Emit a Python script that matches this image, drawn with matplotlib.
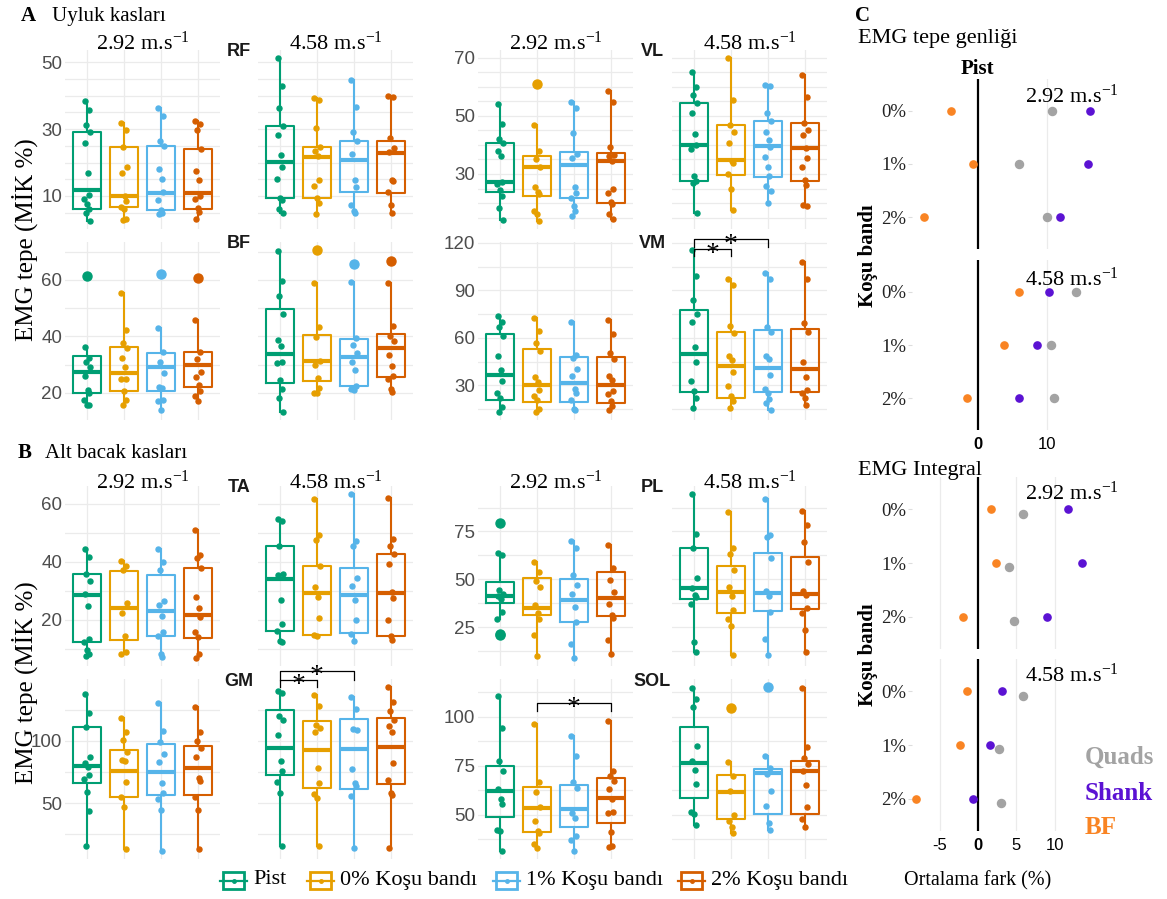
import matplotlib
matplotlib.use("Agg")
import matplotlib.pyplot as plt
from matplotlib.patches import Rectangle
import numpy as np

W, H = 1167, 899

plt.rcParams["font.family"] = ["Liberation Serif", "DejaVu Serif"]
plt.rcParams["mathtext.fontset"] = "custom"
plt.rcParams["mathtext.rm"] = "Liberation Serif"
plt.rcParams["mathtext.it"] = "Liberation Serif:italic"
plt.rcParams["mathtext.bf"] = "Liberation Serif:bold"

GROUPS = ["Pist", "0% Koşu bandı", "1% Koşu bandı", "2% Koşu bandı"]
COLORS = ["#009E73", "#E69F00", "#56B4E9", "#D55E00"]
SPEEDS = ["2.92", "4.58"]
GRID = "#EBEBEB"

# box stats per group: (q1, median, q3, whisker low, whisker high)
RF_292_BOX = [(6.2, 11.7, 29.2, 2.5, 38.5), (6.8, 10.0, 24.7, 2.8, 31.7),
              (5.8, 11.0, 24.9, 4.5, 36.4), (6.0, 10.8, 24.1, 3.0, 32.3)]
RF_292_OUT = [[], [], [], []]
RF_292_PTS = [[38.5, 35.7, 31.2, 29.2, 26.0, 16.9, 10.3, 9.0, 7.5, 6.2, 5.0, 2.5],
              [31.7, 29.7, 24.7, 18.7, 17.0, 10.0, 8.5, 6.8, 6.2, 3.0, 2.8],
              [36.4, 34.0, 26.5, 24.9, 18.2, 15.0, 11.2, 8.7, 5.8, 5.0, 4.5],
              [32.3, 31.5, 29.6, 24.1, 17.4, 14.7, 10.0, 9.0, 6.4, 5.3, 3.0]]
RF_458_BOX = [(9.3, 20.3, 30.9, 4.9, 51.3), (9.3, 21.8, 24.7, 4.7, 39.3),
              (11.2, 20.7, 26.4, 5.0, 44.6), (11.0, 23.0, 26.5, 4.8, 39.9)]
RF_458_OUT = [[], [], [], []]
RF_458_PTS = [[51.3, 43.0, 36.2, 30.9, 28.2, 22.4, 18.7, 15.2, 9.3, 8.7, 6.2, 4.9],
              [39.3, 38.8, 30.2, 24.7, 23.5, 22.0, 14.7, 13.0, 9.3, 7.8, 4.7],
              [44.6, 36.6, 29.0, 26.4, 22.7, 14.7, 12.8, 7.3, 5.5, 5.0],
              [39.9, 39.5, 27.2, 24.3, 23.3, 14.7, 14.5, 11.2, 7.4, 4.8]]

VL_292_BOX = [(23.9, 27.1, 40.6, 14.2, 53.9), (22.6, 32.3, 36.3, 13.9, 46.7),
              (21.7, 33.1, 37.7, 15.7, 54.6), (20.2, 34.3, 37.1, 14.7, 58.6)]
VL_292_OUT = [[], [60.9], [], []]
VL_292_PTS = [[53.9, 47.1, 42.0, 40.6, 38.0, 36.2, 27.1, 26.6, 24.6, 22.6, 18.3, 14.2],
              [46.7, 37.9, 35.1, 32.3, 25.4, 23.7, 23.1, 17.2, 16.3, 13.9],
              [54.6, 52.6, 44.2, 36.7, 35.5, 25.4, 23.4, 21.8, 18.9, 17.4, 15.7],
              [58.6, 54.6, 39.4, 36.6, 36.2, 34.3, 25.0, 23.4, 20.3, 19.6, 16.3, 14.7]]
VL_458_BOX = [(27.7, 39.9, 54.3, 16.6, 64.9), (29.7, 34.9, 46.9, 17.8, 69.8),
              (29.0, 39.6, 48.3, 20.2, 60.6), (27.7, 39.0, 47.6, 18.9, 63.9)]
VL_458_OUT = [[], [], [], []]
VL_458_PTS = [[64.9, 59.9, 57.2, 54.3, 51.0, 43.9, 40.1, 38.5, 29.2, 27.6, 26.9, 16.6],
              [69.8, 55.4, 46.9, 44.5, 40.6, 34.6, 33.9, 29.9, 24.9, 17.8],
              [60.6, 60.2, 50.8, 48.1, 44.5, 41.7, 39.4, 36.0, 32.5, 29.2, 26.0, 24.3, 20.2],
              [63.9, 56.6, 47.5, 45.2, 43.3, 39.1, 35.5, 32.5, 27.9, 26.2, 19.5, 18.9]]

BF_292_BOX = [(19.8, 27.4, 33.2, 15.6, 36.4), (20.6, 27.1, 36.4, 15.5, 55.5),
              (20.5, 29.1, 34.0, 14.0, 42.9), (21.9, 29.8, 34.4, 17.1, 45.8)]
BF_292_OUT = [[61.5], [], [62.1], [60.8]]
BF_292_PTS = [[36.4, 32.2, 30.8, 29.1, 25.9, 20.8, 20.0, 17.6, 15.8, 15.6],
              [55.5, 42.4, 37.6, 35.9, 32.2, 29.1, 24.8, 24.8, 20.6, 17.6, 15.5],
              [42.9, 34.4, 30.8, 26.9, 22.0, 21.8, 17.3, 17.0, 14.0],
              [45.8, 34.4, 31.8, 27.3, 25.5, 22.7, 20.6, 18.8, 17.1]]
BF_458_BOX = [(23.5, 33.8, 49.6, 13.2, 70.2), (24.1, 31.1, 40.6, 19.8, 58.8),
              (22.4, 32.8, 39.1, 20.8, 59.4), (25.6, 36.0, 40.9, 20.2, 58.8)]
BF_458_OUT = [[], [70.6], [65.5], [66.8]]
BF_458_PTS = [[70.2, 59.8, 54.4, 48.0, 38.8, 36.5, 30.9, 30.5, 24.4, 21.2, 18.1, 13.2],
              [58.8, 43.3, 39.8, 31.4, 29.9, 25.1, 21.8, 20.0, 19.8],
              [59.4, 39.3, 37.1, 34.1, 30.8, 28.0, 22.4, 21.5, 20.8],
              [58.8, 43.5, 40.0, 38.5, 33.4, 29.4, 26.1, 24.7, 21.5, 20.2]]

VM_292_BOX = [(20.6, 36.4, 62.6, 13.3, 73.7), (19.8, 30.1, 52.9, 13.5, 72.4),
              (19.4, 31.5, 47.7, 14.8, 70.1), (19.0, 30.3, 47.7, 14.3, 71.4)]
VM_292_OUT = [[], [], [], []]
VM_292_PTS = [[73.7, 70.3, 67.0, 61.3, 48.3, 39.5, 32.8, 25.0, 22.1, 16.6, 13.3],
              [72.4, 64.2, 56.7, 51.9, 35.1, 32.0, 26.9, 23.1, 20.8, 15.4, 13.5],
              [70.1, 49.3, 47.3, 40.3, 35.7, 28.0, 25.2, 20.6, 15.4, 14.8],
              [71.4, 62.6, 50.4, 46.6, 36.1, 33.6, 26.7, 24.8, 20.0, 16.9, 14.3]]
VM_458_BOX = [(26.1, 49.8, 77.7, 15.6, 115.4), (22.3, 42.0, 64.0, 15.6, 97.1),
              (26.1, 41.0, 64.7, 14.8, 101.1), (26.1, 40.1, 65.7, 17.5, 107.6)]
VM_458_OUT = [[], [], [], []]
VM_458_PTS = [[115.4, 99.2, 83.9, 75.1, 70.1, 54.4, 44.5, 32.8, 26.3, 22.1, 15.6],
              [97.1, 93.2, 67.2, 63.0, 48.3, 45.8, 38.2, 29.4, 23.1, 20.0, 15.6],
              [101.1, 97.1, 66.8, 64.0, 48.3, 46.6, 36.6, 28.0, 25.2, 21.7, 19.0, 14.8],
              [107.6, 96.9, 69.1, 64.0, 44.7, 35.3, 27.3, 25.2, 21.9, 17.5]]

TA_292_BOX = [(12.5, 28.4, 35.9, 7.5, 44.5), (13.1, 24.0, 36.8, 8.3, 40.1),
              (14.5, 22.9, 35.6, 7.1, 44.5), (13.9, 21.6, 37.8, 6.9, 50.8)]
TA_292_OUT = [[], [], [], []]
TA_292_PTS = [[44.5, 41.8, 35.9, 33.3, 29.0, 24.8, 13.4, 12.5, 9.7, 8.3, 7.5],
              [40.1, 38.7, 37.0, 25.7, 22.4, 14.3, 8.9, 8.3],
              [44.5, 39.8, 37.2, 26.4, 25.2, 21.3, 15.7, 14.4, 8.3, 7.1],
              [50.8, 42.2, 41.4, 37.8, 28.0, 24.1, 20.9, 15.7, 14.0, 8.3, 6.9]]
TA_458_BOX = [(16.2, 34.1, 45.4, 12.3, 54.6), (14.6, 29.2, 38.4, 14.4, 61.6),
              (15.6, 28.6, 37.8, 12.6, 63.3), (14.4, 29.3, 42.6, 13.1, 62.1)]
TA_458_OUT = [[], [], [], []]
TA_458_PTS = [[54.6, 54.0, 45.4, 35.9, 35.3, 26.7, 18.4, 16.3, 12.6, 12.3],
              [61.6, 49.4, 47.4, 38.4, 31.3, 27.8, 20.7, 14.6, 14.4],
              [63.3, 47.0, 45.3, 34.3, 31.6, 27.0, 20.0, 15.2, 12.6],
              [62.1, 47.7, 45.4, 42.8, 39.1, 29.5, 27.5, 20.0, 14.4, 13.1]]

PL_292_BOX = [(37.6, 41.0, 48.7, 29.4, 63.8), (31.1, 35.2, 50.4, 9.6, 59.2),
              (27.5, 39.2, 50.1, 8.9, 69.9), (30.8, 40.1, 53.6, 10.8, 67.8)]
PL_292_OUT = [[79.6, 21.3, 20.6], [], [], []]
PL_292_PTS = [[63.8, 62.7, 44.3, 42.2, 41.0, 39.6, 32.9, 29.4],
              [59.2, 53.6, 49.2, 45.9, 36.4, 32.2, 29.0, 20.8, 9.6],
              [69.9, 66.2, 52.2, 46.9, 42.4, 35.7, 27.6, 15.9, 8.9],
              [67.8, 56.1, 49.7, 43.1, 36.8, 31.1, 29.9, 18.0, 10.8]]
PL_458_BOX = [(39.6, 45.2, 66.2, 11.8, 94.5), (32.2, 43.1, 56.8, 10.6, 85.4),
              (33.4, 42.7, 63.9, 10.3, 91.8), (34.3, 42.5, 61.8, 11.8, 85.9)]
PL_458_OUT = [[], [], [], []]
PL_458_PTS = [[94.5, 73.9, 66.4, 50.6, 45.5, 41.7, 40.8, 37.3, 17.3, 11.8],
              [85.4, 66.2, 63.1, 54.8, 46.1, 41.0, 34.0, 29.0, 25.5, 10.6],
              [91.8, 73.2, 72.0, 61.0, 43.8, 41.0, 33.1, 18.5, 10.3],
              [85.9, 78.5, 69.7, 59.2, 43.6, 42.0, 35.2, 32.5, 23.4, 11.8]]

GM_292_BOX = [(66.5, 79.8, 110.9, 15.4, 137.5), (55.1, 75.8, 92.8, 12.8, 118.6),
              (56.6, 74.7, 97.6, 11.7, 130.3), (56.6, 78.5, 95.5, 12.8, 127.1)]
GM_292_OUT = [[], [], [], []]
GM_292_PTS = [[137.5, 122.6, 110.9, 87.2, 81.9, 78.7, 72.6, 69.4, 58.8, 43.4, 15.4],
              [118.6, 107.2, 100.5, 90.7, 84.6, 83.8, 67.3, 55.3, 46.8, 12.8],
              [130.3, 107.7, 99.2, 89.4, 83.2, 66.0, 58.0, 53.2, 44.1, 11.7],
              [127.1, 106.9, 100.0, 94.4, 86.7, 69.9, 68.1, 55.3, 44.7, 12.8]]
GM_458_BOX = [(72.6, 94.4, 124.5, 15.4, 140.4), (62.5, 92.6, 115.7, 15.4, 137.0),
              (61.7, 93.1, 117.6, 13.6, 135.1), (65.4, 94.7, 118.6, 14.1, 143.1)]
GM_458_OUT = [[], [], [], []]
GM_458_PTS = [[140.4, 138.3, 120.2, 117.0, 104.5, 84.0, 76.1, 67.3, 58.5, 15.4],
              [137.0, 127.7, 113.0, 110.6, 107.2, 77.9, 66.0, 57.4, 54.0, 15.4],
              [135.1, 125.3, 109.6, 109.0, 77.1, 66.0, 63.8, 55.9, 13.6],
              [143.1, 131.1, 123.9, 117.0, 111.7, 107.2, 81.9, 68.6, 58.5, 56.6, 14.1]]

SOL_292_BOX = [(49.0, 62.0, 75.0, 31.5, 110.8), (40.9, 53.4, 64.0, 32.7, 96.2),
               (43.5, 52.9, 65.2, 31.5, 90.1), (45.5, 58.7, 68.7, 33.2, 97.8)]
SOL_292_OUT = [[], [], [], []]
SOL_292_PTS = [[110.8, 94.3, 77.4, 72.4, 63.2, 57.9, 55.5, 42.1, 41.8, 31.5],
               [96.2, 66.6, 61.8, 53.8, 46.9, 41.8, 40.4, 35.0, 32.7],
               [90.1, 80.1, 66.6, 63.5, 50.9, 48.1, 39.2, 37.0, 31.5],
               [97.8, 72.1, 69.7, 67.1, 63.2, 58.0, 51.2, 50.7, 40.9, 34.1, 33.2]]
SOL_458_BOX = [(58.7, 76.5, 94.9, 44.9, 114.6), (47.8, 61.5, 70.0, 40.4, 76.9),
               (50.3, 71.2, 73.5, 42.1, 80.1), (50.3, 72.1, 77.4, 43.5, 114.9)]
SOL_458_OUT = [[], [104.3], [115.1], []]
SOL_458_PTS = [[114.6, 108.9, 104.8, 85.1, 77.4, 72.6, 65.8, 51.2, 50.3, 44.9],
               [76.9, 69.9, 62.3, 50.0, 46.6, 43.5, 40.4],
               [80.1, 74.0, 70.9, 62.3, 54.6, 45.9, 42.1],
               [114.9, 84.6, 79.1, 75.7, 72.3, 64.9, 53.8, 47.6, 43.5]]

# y ticks and grid step per muscle
TICKS = {"RF": [10, 30, 50], "VL": [30, 50, 70], "BF": [20, 40, 60],
         "VM": [30, 60, 90, 120], "TA": [20, 40, 60], "PL": [25, 50, 75],
         "GM": [50, 100], "SOL": [50, 75, 100]}
GRID_STEP = {"RF": 5, "VL": 5, "BF": 10, "VM": 15, "TA": 10, "PL": 12.5,
             "GM": 25, "SOL": 12.5}

# significance brackets: (muscle, speed index, group a, group b, bar y, leg end y)
SIG = [("VM", 1, 0, 1, 116.4, 111.6), ("VM", 1, 0, 2, 122.1, 117.5),
       ("GM", 1, 0, 1, 148.9, 143.1), ("GM", 1, 0, 2, 155.9, 148.9),
       ("SOL", 0, 1, 3, 106.8, 102.9)]

# panel C: mean difference (%) vs Pist for 0%, 1%, 2% treadmill
LEVELS = ["0%", "1%", "2%"]
PEAK_292_QUADS = [10.7, 6.0, 10.0]
PEAK_292_SHANK = [16.2, 15.9, 11.9]
PEAK_292_BF = [-3.9, -0.7, -7.8]
PEAK_458_QUADS = [14.2, 10.5, 11.0]
PEAK_458_SHANK = [10.3, 8.6, 5.9]
PEAK_458_BF = [5.9, 3.8, -1.6]
INT_292_QUADS = [5.9, 4.0, 4.7]
INT_292_SHANK = [11.7, 13.6, 9.0]
INT_292_BF = [1.7, 2.3, -2.0]
INT_458_QUADS = [5.8, 2.8, 3.0]
INT_458_SHANK = [3.1, 1.6, -0.7]
INT_458_BF = [-1.4, -2.4, -8.1]
QUADS_C, SHANK_C, BF_C = "#A3A3A3", "#5B12D3", "#F98423"

JIT = [-0.07, 0.05, -0.02, 0.08, -0.05, 0.02, 0.06, -0.08, 0.0, 0.04, -0.04, 0.07, -0.01]

MUSCLES = {
    "RF": ((RF_292_BOX, RF_292_PTS, RF_292_OUT), (RF_458_BOX, RF_458_PTS, RF_458_OUT)),
    "VL": ((VL_292_BOX, VL_292_PTS, VL_292_OUT), (VL_458_BOX, VL_458_PTS, VL_458_OUT)),
    "BF": ((BF_292_BOX, BF_292_PTS, BF_292_OUT), (BF_458_BOX, BF_458_PTS, BF_458_OUT)),
    "VM": ((VM_292_BOX, VM_292_PTS, VM_292_OUT), (VM_458_BOX, VM_458_PTS, VM_458_OUT)),
    "TA": ((TA_292_BOX, TA_292_PTS, TA_292_OUT), (TA_458_BOX, TA_458_PTS, TA_458_OUT)),
    "PL": ((PL_292_BOX, PL_292_PTS, PL_292_OUT), (PL_458_BOX, PL_458_PTS, PL_458_OUT)),
    "GM": ((GM_292_BOX, GM_292_PTS, GM_292_OUT), (GM_458_BOX, GM_458_PTS, GM_458_OUT)),
    "SOL": ((SOL_292_BOX, SOL_292_PTS, SOL_292_OUT), (SOL_458_BOX, SOL_458_PTS, SOL_458_OUT)),
}

# layout in pixels
COLS = [[(65, 220), (258, 413)], [(478, 633), (672, 827)]]
ROWS = [(50, 229), (242, 420), (486, 666), (679, 859)]
PLACE = {"RF": (0, 0), "VL": (0, 1), "BF": (1, 0), "VM": (1, 1),
         "TA": (2, 0), "PL": (2, 1), "GM": (3, 0), "SOL": (3, 1)}

fig = plt.figure(figsize=(W / 100, H / 100), dpi=100)


def px_axes(x0, y0, x1, y1):
    return fig.add_axes([x0 / W, 1 - y1 / H, (x1 - x0) / W, (y1 - y0) / H])


def clean(ax):
    for s in ax.spines.values():
        s.set_visible(False)
    ax.set_facecolor("none")


def data_ylim(m):
    vals = []
    for box, pts, outs in MUSCLES[m]:
        for b in box:
            vals += [b[3], b[4]]
        for p in pts + outs:
            vals += list(p)
    lo, hi = min(vals), max(vals)
    pad = 0.05 * (hi - lo)
    return lo - pad, hi + pad


def draw_box_panel(ax, box, pts, outs, ylim, m, left):
    clean(ax)
    ax.set_xlim(0.4, 4.6)
    ax.set_ylim(*ylim)
    step = GRID_STEP[m]
    for v in np.arange(np.ceil(ylim[0] / step) * step, ylim[1], step):
        ax.axhline(v, color=GRID, lw=0.9, zorder=0)
    for x in range(1, 5):
        ax.axvline(x, color=GRID, lw=0.9, zorder=0)
    for i, c in enumerate(COLORS):
        q1, med, q3, lo, hi = box[i]
        stats = [dict(med=med, q1=q1, q3=q3, whislo=lo, whishi=hi, fliers=outs[i])]
        ax.bxp(stats, positions=[i + 1], widths=0.75, showcaps=False,
               manage_ticks=False,
               boxprops=dict(color=c, lw=1.5),
               whiskerprops=dict(color=c, lw=1.5),
               medianprops=dict(color=c, lw=3.0, solid_capstyle="butt"),
               flierprops=dict(marker="o", markerfacecolor=c, markeredgecolor=c,
                               markersize=6.5))
        xs = [i + 1 + JIT[k % len(JIT)] for k in range(len(pts[i]))]
        ax.plot(xs, pts[i], "o", color=c, ms=3.6, zorder=4, clip_on=False)
    ax.set_xticks([])
    ax.set_yticks(TICKS[m])
    ax.tick_params(length=0, labelsize=13.5, labelcolor="#4D4D4D", pad=2)
    if left:
        for t in ax.get_yticklabels():
            t.set_fontfamily("Liberation Sans")
    else:
        ax.set_yticklabels([])


box_axes = {}
for m, (r, c) in PLACE.items():
    ylim = data_ylim(m)
    y0, y1 = ROWS[r]
    for s in range(2):
        x0, x1 = COLS[c][s]
        ax = px_axes(x0, y0, x1, y1)
        box, pts, outs = MUSCLES[m][s]
        draw_box_panel(ax, box, pts, outs, ylim, m, s == 0)
        box_axes[(m, s)] = ax

for m, s, a, b, ybar, yleg in SIG:
    ax = box_axes[(m, s)]
    xa, xb = a + 1, b + 1
    ax.plot([xa, xa, xb, xb], [yleg, ybar, ybar, yleg], color="black", lw=0.9,
            clip_on=False, zorder=5)
    ax.annotate("*", ((xa + xb) / 2, ybar), xytext=(0, -4), textcoords="offset points",
                ha="center", va="center", fontsize=20, annotation_clip=False, zorder=6)


def draw_diff_panel(ax, quads, shank, bf, xlim, xticks, show_labels, qshift):
    clean(ax)
    ys = np.arange(1, 4)
    ax.set_xlim(*xlim)
    ax.set_ylim(3.6, 0.4)
    for t in xticks:
        if t != 0:
            ax.axvline(t, color=GRID, lw=0.9, zorder=0)
    ax.axvline(0, color="black", lw=1.6, zorder=1)
    ax.plot(quads, ys + qshift, "o", color=QUADS_C, ms=5.8, zorder=3, clip_on=False)
    ax.plot(shank, ys, "o", color=SHANK_C, ms=5.2, zorder=3, clip_on=False)
    ax.plot(bf, ys, "o", color=BF_C, ms=5.2, zorder=3, clip_on=False)
    ax.set_yticks(ys)
    ax.set_yticklabels(LEVELS, fontsize=13.5, color="#222222")
    ax.set_xticks(xticks)
    ax.tick_params(axis="y", length=3, color="#DDDDDD", pad=1)
    ax.tick_params(axis="x", length=0, pad=5)
    if show_labels:
        ax.set_xticklabels([str(t) for t in xticks], fontsize=12, fontfamily="Liberation Sans")
        for t, v in zip(ax.get_xticklabels(), xticks):
            if v == 0:
                t.set_fontweight("bold")
    else:
        ax.set_xticklabels([])


PEAK_X = (-9.5, 16.9)
INT_X = (-8.6, 14.2)
c1 = px_axes(912, 79, 1095, 249)
draw_diff_panel(c1, PEAK_292_QUADS, PEAK_292_SHANK, PEAK_292_BF, PEAK_X, [0, 10], False, 0)
c2 = px_axes(912, 260, 1095, 430)
draw_diff_panel(c2, PEAK_458_QUADS, PEAK_458_SHANK, PEAK_458_BF, PEAK_X, [0, 10], True, 0)
c3 = px_axes(912, 477, 1087, 649)
draw_diff_panel(c3, INT_292_QUADS, INT_292_SHANK, INT_292_BF, INT_X, [-5, 0, 5, 10], False, 0.08)
c4 = px_axes(912, 659, 1087, 831)
draw_diff_panel(c4, INT_458_QUADS, INT_458_SHANK, INT_458_BF, INT_X, [-5, 0, 5, 10], True, 0.08)

# overlay for text in pixel coordinates
ov = fig.add_axes([0, 0, 1, 1])
ov.set_xlim(0, W)
ov.set_ylim(H, 0)
ov.axis("off")

SANS = "Liberation Sans"
ov.text(21, 16, "A", fontsize=15, fontweight="bold", va="center")
ov.text(52, 16, "Uyluk kasları", fontsize=15, va="center")
ov.text(18, 453, "B", fontsize=15, fontweight="bold", va="center")
ov.text(45, 453, "Alt bacak kasları", fontsize=15, va="center")
ov.text(25, 240, "EMG tepe (MİK %)", fontsize=18, rotation=90, ha="center", va="center")
ov.text(25, 683, "EMG tepe (MİK %)", fontsize=18, rotation=90, ha="center", va="center")

for c in range(2):
    for s in range(2):
        x0, x1 = COLS[c][s]
        for yy in (43, 482):
            ov.text((x0 + x1) / 2, yy, SPEEDS[s] + r" m.s$^{-1}$", fontsize=16,
                    ha="center", va="center")

for m, (r, c) in PLACE.items():
    xc = (COLS[c][0][0] + COLS[c][1][1]) / 2
    ov.text(xc, ROWS[r][0] + 2, m, fontsize=13, fontweight="bold", fontfamily=SANS,
            ha="center", va="center", color="#1A1A1A")

# bottom legend
LEG_X = [220, 307, 493, 678]
for lx, lab, col in zip(LEG_X, GROUPS, COLORS):
    ov.add_patch(Rectangle((lx + 3, 872), 21, 17, fill=False, edgecolor=col, lw=2))
    ov.plot([lx, lx + 27], [880.5, 880.5], color=col, lw=1.6)
    ov.plot([lx + 13.5], [880.5], "o", color=col, ms=2.5)
    ov.text(lx + 33, 880, lab, fontsize=16, va="center")

# panel C text
ov.text(863, 16, "C", fontsize=15, fontweight="bold", ha="center", va="center")
ov.text(858, 39, "EMG tepe genliği", fontsize=16, va="center")
ov.text(977, 69, "Pist", fontsize=15, fontweight="bold", ha="center", va="center")
ov.text(868, 256, "Koşu bandı", fontsize=15, fontweight="bold", rotation=90,
        ha="center", va="center")
ov.text(858, 470, "EMG Integral", fontsize=16, va="center")
ov.text(868, 655, "Koşu bandı", fontsize=15, fontweight="bold", rotation=90,
        ha="center", va="center")
for yy, sp in ((96, SPEEDS[0]), (279, SPEEDS[1]), (493, SPEEDS[0]), (675, SPEEDS[1])):
    ov.text(1072, yy, sp + r" m.s$^{-1}$", fontsize=16, ha="center", va="center")
ov.text(1085, 757, "Quads", fontsize=18, fontweight="bold", color=QUADS_C, va="center")
ov.text(1085, 793, "Shank", fontsize=18, fontweight="bold", color=SHANK_C, va="center")
ov.text(1085, 827, "BF", fontsize=18, fontweight="bold", color=BF_C, va="center")
ov.text(978, 881, "Ortalama fark (%)", fontsize=14.5, ha="center", va="center")

fig.savefig("out.png", dpi=100)
